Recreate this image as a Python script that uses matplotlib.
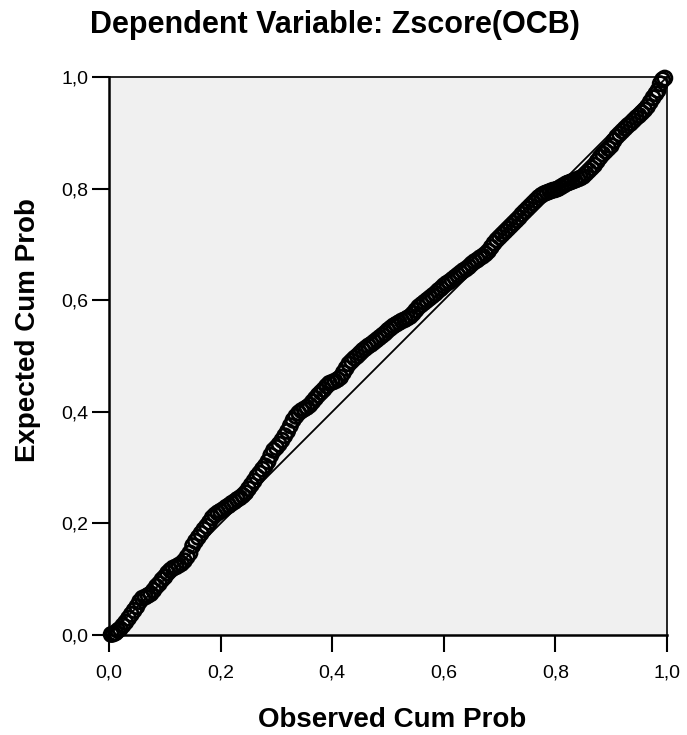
import matplotlib
matplotlib.use("Agg")
import matplotlib.pyplot as plt

plt.rcParams['font.family'] = ['Liberation Sans', 'DejaVu Sans']

# P-P plot points (observed cum prob, expected cum prob)
observed = [
    0.004, 0.008, 0.012, 0.016, 0.020, 0.025, 0.030, 0.035, 0.040, 0.045,
    0.050, 0.055, 0.060, 0.065, 0.070, 0.075, 0.080, 0.085, 0.090, 0.095, 0.100,
    0.105, 0.110, 0.115, 0.120, 0.125, 0.130, 0.135, 0.140, 0.145, 0.150,
    0.155, 0.160, 0.165, 0.170, 0.175, 0.180, 0.185, 0.190, 0.195, 0.200,
    0.205, 0.210, 0.215, 0.220, 0.225, 0.230, 0.235, 0.240, 0.245, 0.250,
    0.255, 0.260, 0.265, 0.270, 0.275, 0.280, 0.285, 0.290, 0.295, 0.300,
    0.305, 0.310, 0.315, 0.320, 0.325, 0.330, 0.335, 0.340, 0.345, 0.350,
    0.355, 0.360, 0.365, 0.370, 0.375, 0.380, 0.385, 0.390, 0.395, 0.400,
    0.405, 0.410, 0.415, 0.420, 0.425, 0.430, 0.435, 0.440, 0.445, 0.450,
    0.455, 0.460, 0.465, 0.470, 0.475, 0.480, 0.485, 0.490, 0.495, 0.500,
    0.505, 0.510, 0.515, 0.520, 0.525, 0.530, 0.535, 0.540, 0.545, 0.550,
    0.555, 0.560, 0.565, 0.570, 0.575, 0.580, 0.585, 0.590, 0.595, 0.600,
    0.605, 0.610, 0.615, 0.620, 0.625, 0.630, 0.635, 0.640, 0.645, 0.650,
    0.655, 0.660, 0.665, 0.670, 0.675, 0.680, 0.685, 0.690, 0.695, 0.700,
    0.705, 0.710, 0.715, 0.720, 0.725, 0.730, 0.735, 0.740, 0.745, 0.750,
    0.755, 0.760, 0.765, 0.770, 0.775, 0.780, 0.785, 0.790, 0.795, 0.800,
    0.805, 0.810, 0.815, 0.820, 0.825, 0.830, 0.835, 0.840, 0.845, 0.850,
    0.855, 0.860, 0.865, 0.870, 0.875, 0.880, 0.885, 0.890, 0.895, 0.900,
    0.905, 0.910, 0.915, 0.920, 0.925, 0.930, 0.935, 0.940, 0.945, 0.950,
    0.955, 0.960, 0.965, 0.970, 0.975, 0.980, 0.984, 0.988, 0.992, 0.996,
]
expected = [
    0.001, 0.002, 0.004, 0.008, 0.011, 0.017, 0.023, 0.030, 0.037, 0.044,
    0.051, 0.060, 0.066, 0.068, 0.071, 0.074, 0.080, 0.087, 0.092, 0.099, 0.104,
    0.111, 0.116, 0.120, 0.122, 0.125, 0.128, 0.133, 0.140, 0.147, 0.160,
    0.168, 0.175, 0.182, 0.189, 0.195, 0.202, 0.210, 0.215, 0.219, 0.222,
    0.225, 0.229, 0.232, 0.236, 0.239, 0.243, 0.246, 0.250, 0.255, 0.262,
    0.269, 0.276, 0.284, 0.290, 0.297, 0.303, 0.311, 0.322, 0.331, 0.336,
    0.342, 0.349, 0.357, 0.365, 0.375, 0.385, 0.392, 0.398, 0.402, 0.405,
    0.408, 0.412, 0.418, 0.424, 0.430, 0.435, 0.440, 0.446, 0.451, 0.453,
    0.455, 0.458, 0.462, 0.470, 0.478, 0.486, 0.491, 0.496, 0.500, 0.505,
    0.510, 0.514, 0.518, 0.521, 0.525, 0.529, 0.533, 0.537, 0.541, 0.546,
    0.550, 0.554, 0.557, 0.560, 0.563, 0.565, 0.568, 0.571, 0.576, 0.582,
    0.588, 0.592, 0.596, 0.600, 0.604, 0.608, 0.612, 0.617, 0.621, 0.626,
    0.630, 0.633, 0.637, 0.641, 0.645, 0.649, 0.653, 0.656, 0.660, 0.665,
    0.669, 0.672, 0.676, 0.679, 0.683, 0.688, 0.695, 0.702, 0.708, 0.713,
    0.718, 0.723, 0.728, 0.733, 0.738, 0.743, 0.748, 0.754, 0.759, 0.764,
    0.769, 0.774, 0.779, 0.784, 0.788, 0.791, 0.793, 0.795, 0.797, 0.798,
    0.800, 0.803, 0.806, 0.809, 0.811, 0.813, 0.815, 0.817, 0.819, 0.822,
    0.827, 0.832, 0.837, 0.842, 0.849, 0.856, 0.862, 0.867, 0.872, 0.877,
    0.886, 0.893, 0.898, 0.903, 0.908, 0.913, 0.917, 0.922, 0.927, 0.931,
    0.936, 0.941, 0.947, 0.955, 0.963, 0.970, 0.976, 0.988, 0.995, 0.998,
]

ticks = [0.0, 0.2, 0.4, 0.6, 0.8, 1.0]
tick_labels = ['0,0', '0,2', '0,4', '0,6', '0,8', '1,0']

title = 'Dependent Variable: Zscore(OCB)'
x_label = 'Observed Cum Prob'
y_label = 'Expected Cum Prob'


def main():
    fig = plt.figure(figsize=(6.87, 7.35), dpi=100)
    ax = fig.add_axes([109 / 687, 1 - 635 / 735, 558 / 687, 558 / 735])
    ax.set_facecolor('#f0f0f0')

    # reference diagonal
    ax.plot([0, 1], [0, 1], color='black', lw=1.3, zorder=2)

    ax.scatter(observed, expected, s=105, facecolors='none',
               edgecolors='black', linewidths=2.0, zorder=3, clip_on=False)

    ax.set_xlim(0, 1)
    ax.set_ylim(0, 1)
    ax.set_xticks(ticks, tick_labels)
    ax.set_yticks(ticks, tick_labels)
    ax.tick_params(axis='both', direction='out', length=12, width=1.5,
                   labelsize=14, color='black')
    ax.tick_params(axis='x', pad=9)
    ax.tick_params(axis='y', pad=3)

    for side in ['left', 'bottom']:
        ax.spines[side].set_linewidth(1.8)
    for side in ['top', 'right']:
        ax.spines[side].set_linewidth(1.2)

    fig.text(334.5 / 687, 1 - 33 / 735, title, ha='center', va='baseline',
             fontsize=22, fontweight='bold')
    fig.text(392 / 687, 1 - 727 / 735, x_label, ha='center', va='baseline',
             fontsize=20, fontweight='bold')
    fig.text(28 / 687, 1 - 330 / 735, y_label, ha='center', va='center',
             rotation=90, fontsize=20, fontweight='bold')

    fig.savefig('out.png', dpi=100)


if __name__ == "__main__":
    main()
